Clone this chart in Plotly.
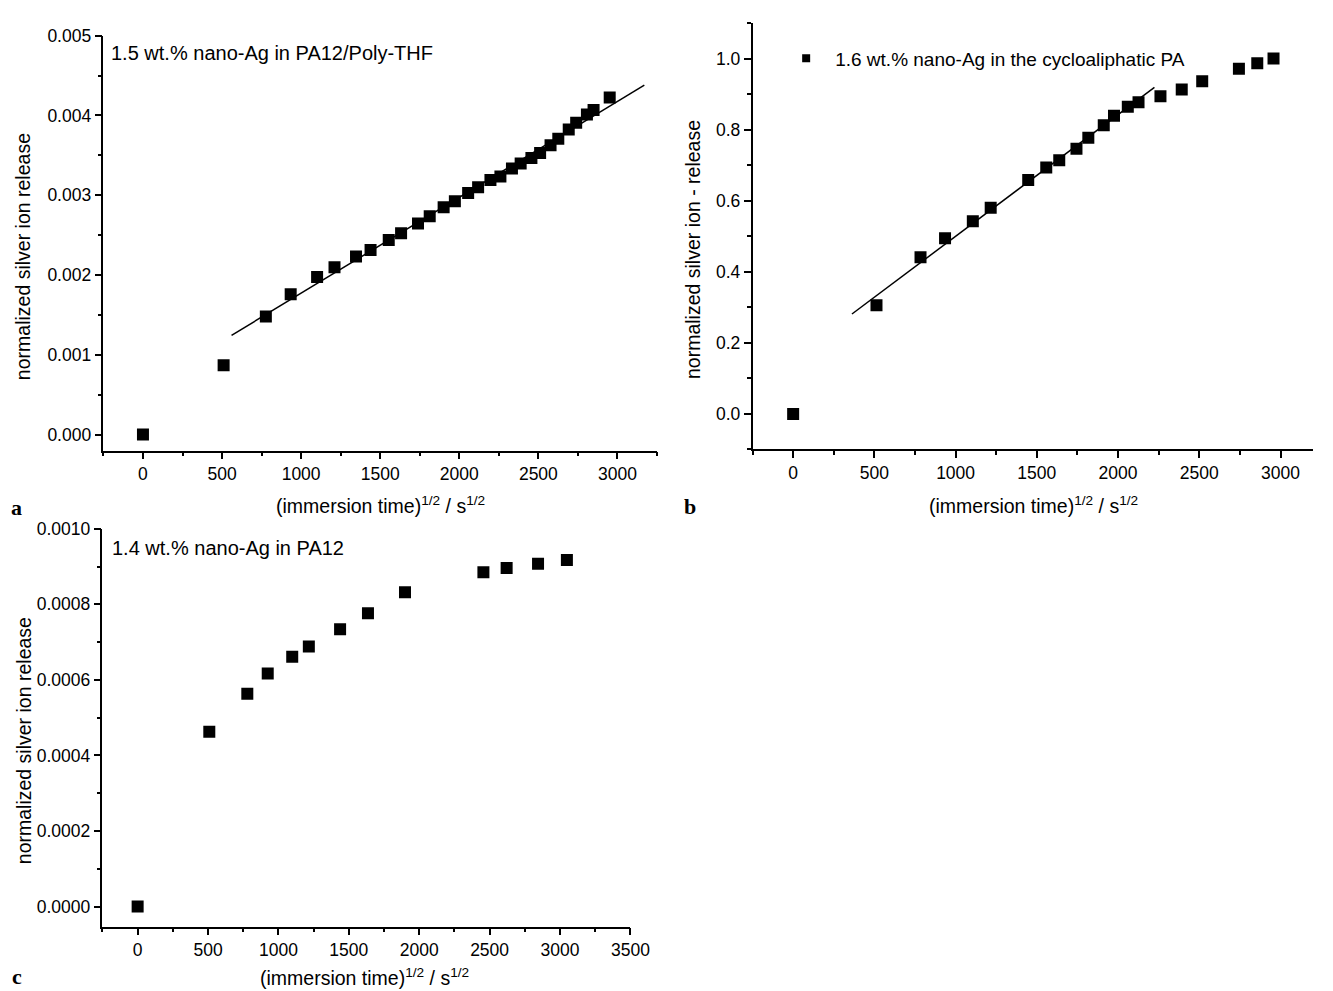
import plotly.graph_objects as go

# ---------------- data ----------------
# Panel a: 1.5 wt.% nano-Ag in PA12/Poly-THF
a_x = [0, 510, 777, 934, 1101, 1211, 1347, 1439, 1554, 1632, 1739, 1813, 1901, 1972,
       2056, 2119, 2197, 2260, 2333, 2388, 2456, 2511, 2577, 2626, 2692, 2739, 2807,
       2849, 2951]
a_y = [0.0, 0.000868, 0.001479, 0.001760, 0.001975, 0.002099, 0.002231, 0.002314,
       0.002438, 0.002525, 0.002645, 0.002736, 0.002851, 0.002926, 0.003029, 0.003099,
       0.003190, 0.003236, 0.003335, 0.003397, 0.003467, 0.003529, 0.003628, 0.003707,
       0.003826, 0.003909, 0.004012, 0.004070, 0.004227]
a_fit_x = [560, 3170]
a_fit_y = [0.001244, 0.004380]

# Panel b: 1.6 wt.% nano-Ag in the cycloaliphatic PA
b_x = [0, 513, 784, 935, 1106, 1216, 1447, 1558, 1638, 1744, 1817, 1912, 1975, 2060,
       2126, 2261, 2392, 2518, 2744, 2857, 2957]
b_y = [0.0, 0.306, 0.441, 0.494, 0.542, 0.580, 0.658, 0.693, 0.714, 0.746, 0.777,
       0.812, 0.839, 0.864, 0.877, 0.894, 0.913, 0.936, 0.971, 0.987, 1.000]
b_fit_x = [362, 2224]
b_fit_y = [0.281, 0.919]

# Panel c: 1.4 wt.% nano-Ag in PA12
c_x = [0, 509, 779, 924, 1098, 1216, 1438, 1636, 1899, 2456, 2621, 2844, 3049]
c_y = [0.0, 0.000463, 0.000563, 0.000617, 0.000661, 0.000688, 0.000734, 0.000776,
       0.000832, 0.000885, 0.000896, 0.000907, 0.000917]

label_a = "1.5 wt.% nano-Ag in PA12/Poly-THF"
label_b = "1.6 wt.% nano-Ag in the cycloaliphatic PA"
label_c = "1.4 wt.% nano-Ag in PA12"
x_title = "(immersion time)<sup>1/2</sup> / s<sup>1/2</sup>"
y_title_ac = "normalized silver ion release"
y_title_b = "normalized silver ion - release"

# ---------------- layout helpers ----------------
W, H = 1333, 991
FONT = "Liberation Sans, Arial, sans-serif"
TICKFONT = dict(family=FONT, size=17.5, color="black")
TITLEFONT = dict(family=FONT, size=19.5, color="black")
LABELFONT = dict(family=FONT, size=20, color="black")
LEGENDFONT = dict(family=FONT, size=19, color="black")
LETTERFONT = dict(family="Liberation Serif, Times New Roman, serif", size=22, color="black")


def px_x(p):
    return p / W


def px_y(p):
    return 1 - p / H


def axis_style(dtick, minor_dtick, rng, domain, anchor, fmt=None):
    d = dict(
        range=rng, domain=domain, anchor=anchor,
        showline=True, linecolor="black", linewidth=1.5,
        ticks="outside", ticklen=7, tickwidth=1.5, tickcolor="black",
        tick0=0, dtick=dtick,
        minor=dict(ticks="outside", ticklen=4, tickwidth=1.5, tickcolor="black",
                   dtick=minor_dtick, tick0=0),
        showgrid=False, zeroline=False, mirror=False,
        tickfont=TICKFONT, fixedrange=True,
    )
    if fmt:
        d["tickformat"] = fmt
    return d


marker = dict(symbol="square", size=12, color="black", line=dict(width=0))
line = dict(color="black", width=1.5)

fig = go.Figure()

# panel a
fig.add_trace(go.Scatter(x=a_fit_x, y=a_fit_y, mode="lines", line=line,
                         xaxis="x", yaxis="y", showlegend=False, hoverinfo="skip"))
fig.add_trace(go.Scatter(x=a_x, y=a_y, mode="markers", marker=marker,
                         xaxis="x", yaxis="y", showlegend=False, name=label_a))
# panel b
fig.add_trace(go.Scatter(x=b_fit_x, y=b_fit_y, mode="lines", line=line,
                         xaxis="x2", yaxis="y2", showlegend=False, hoverinfo="skip"))
fig.add_trace(go.Scatter(x=b_x, y=b_y, mode="markers", marker=marker,
                         xaxis="x2", yaxis="y2", showlegend=False, name=label_b))
# legend entry for panel b (smaller symbol as in the original)
fig.add_trace(go.Scatter(x=[None], y=[None], mode="markers",
                         marker=dict(symbol="square", size=8, color="black"),
                         xaxis="x2", yaxis="y2", showlegend=True, name=label_b))
# panel c
fig.add_trace(go.Scatter(x=c_x, y=c_y, mode="markers", marker=marker,
                         xaxis="x3", yaxis="y3", showlegend=False, name=label_c))

fig.update_layout(
    width=W, height=H,
    margin=dict(l=0, r=0, t=0, b=0),
    paper_bgcolor="white", plot_bgcolor="white",
    font=dict(family=FONT, color="black"),
    xaxis=axis_style(500, 250, [-250, 3250], [px_x(105), px_x(667)], "y"),
    yaxis=axis_style(0.001, 0.0005, [-0.0002, 0.005], [px_y(445), px_y(26)], "x", ".3f"),
    xaxis2=axis_style(500, 250, [-250, 3200], [px_x(764), 1.0], "y2"),
    yaxis2=axis_style(0.2, 0.1, [-0.1, 1.1], [px_y(443.9), px_y(13.1)], "x2", ".1f"),
    xaxis3=axis_style(500, 250, [-250, 3500], [px_x(104), px_x(640)], "y3"),
    yaxis3=axis_style(0.0002, 0.0001, [-0.000053, 0.001], [px_y(926), px_y(524)], "x3", ".4f"),
    legend=dict(x=px_x(789), y=px_y(49), xanchor="left", yanchor="middle",
                bgcolor="rgba(0,0,0,0)", borderwidth=0, itemwidth=48,
                font=LEGENDFONT),
    showlegend=True,
)

annotations = [
    # in-plot labels
    dict(text=label_a, x=px_x(111), y=px_y(43), xanchor="left", yanchor="middle",
         font=LABELFONT),
    dict(text=label_c, x=px_x(112), y=px_y(543), xanchor="left", yanchor="middle",
         font=LABELFONT),
    # x-axis titles
    dict(text=x_title, x=px_x(386), y=px_y(500), xanchor="center", yanchor="middle",
         font=TITLEFONT),
    dict(text=x_title, x=px_x(1049), y=px_y(500), xanchor="center", yanchor="middle",
         font=TITLEFONT),
    dict(text=x_title, x=px_x(370), y=px_y(977), xanchor="center", yanchor="middle",
         font=TITLEFONT),
    # y-axis titles
    dict(text=y_title_ac, x=px_x(24), y=px_y(249), textangle=-90, xanchor="center",
         yanchor="middle", font=TITLEFONT),
    dict(text=y_title_b, x=px_x(703), y=px_y(242), textangle=-90, xanchor="center",
         yanchor="middle", font=TITLEFONT),
    dict(text=y_title_ac, x=px_x(24), y=px_y(738), textangle=-90, xanchor="center",
         yanchor="middle", font=TITLEFONT),
    # panel letters
    dict(text="<b>a</b>", x=px_x(17), y=px_y(503), xanchor="center", yanchor="middle",
         font=LETTERFONT),
    dict(text="<b>b</b>", x=px_x(701), y=px_y(502), xanchor="center", yanchor="middle",
         font=LETTERFONT),
    dict(text="<b>c</b>", x=px_x(17), y=0, xanchor="center", yanchor="bottom",
         font=LETTERFONT),
]
for a in annotations:
    a.update(xref="paper", yref="paper", showarrow=False)
fig.update_layout(annotations=annotations)

fig.write_html(
    "out.html",
    config={"displayModeBar": False},
    post_script="document.body.style.margin='0';document.body.style.overflow='hidden';",
)
